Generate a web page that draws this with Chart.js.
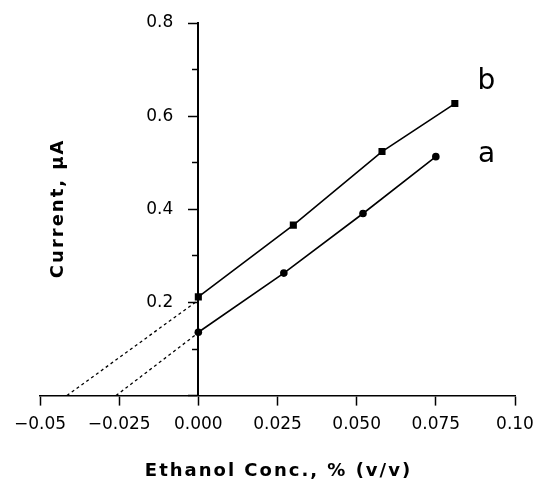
<!DOCTYPE html>
<html>
<head>
<meta charset="utf-8">
<script src="https://cdn.jsdelivr.net/npm/chart.js@4"></script>
<style>
    html, body { margin: 0; padding: 0; background: #fff; }
    #wrap { width: 537px; height: 482px; }
</style>
</head>
<body>
<div id="wrap"><canvas id="chart"></canvas></div>
<script>
'use strict';

// Axis ticks
const xTicks = [-0.05, -0.025, 0, 0.025, 0.05, 0.075, 0.10];
const xTickLabels = ['\u22120.05', '\u22120.025', '0.000', '0.025', '0.050', '0.075', '0.10'];
const yTicks = [0, 0.2, 0.4, 0.6, 0.8];
const yTickLabels = ['', '0.2', '0.4', '0.6', '0.8'];
const yMinorTicks = [0.1, 0.3, 0.5, 0.7];

// Series a (circles)
const aX = [0, 0.027, 0.052, 0.075];
const aY = [0.136, 0.263, 0.391, 0.513];
// Series b (squares)
const bX = [0, 0.030, 0.058, 0.081];
const bY = [0.212, 0.366, 0.524, 0.627];

// Extrapolation to the x intercept
const aExtX = [-0.026, 0];
const aExtY = [0, 0.135];
const bExtX = [-0.0415, 0];
const bExtY = [0, 0.205];

const seriesNames = ['a', 'b'];

const toPoints = (xs, ys) => xs.map((x, i) => ({ x: x, y: ys[i] }));

const FONT = '"DejaVu Sans", sans-serif';
const Y_LABEL_GAP = 25;

// Centered y axis puts its labels on the line itself, move them left
const yLabelPlugin = {
    id: 'yLabelShift',
    beforeDraw(chart) {
        const items = chart.scales.y.getLabelItems();
        if (items._shifted) {
            return;
        }
        items.forEach(item => { item.options.translation[0] -= Y_LABEL_GAP; });
        items._shifted = true;
    }
};

// Titles and series letters
const textPlugin = {
    id: 'texts',
    afterDraw(chart) {
        const ctx = chart.ctx;
        const area = chart.chartArea;
        const x = chart.scales.x;
        const y = chart.scales.y;
        ctx.save();
        ctx.fillStyle = '#000';
        ctx.textAlign = 'center';
        ctx.textBaseline = 'middle';

        // Series labels
        ctx.font = '28px ' + FONT;
        ctx.fillText(seriesNames[1], x.getPixelForValue(0.091), y.getPixelForValue(0.674));
        ctx.fillText(seriesNames[0], x.getPixelForValue(0.091), y.getPixelForValue(0.518));

        // Axis titles
        ctx.letterSpacing = '2px';
        ctx.font = 'bold 18px ' + FONT;
        ctx.fillText('Ethanol Conc., % (v/v)', (area.left + area.right) / 2 + 1, 471);
        ctx.translate(58, (area.top + area.bottom) / 2);
        ctx.rotate(-Math.PI / 2);
        ctx.fillText('Current, \u03bcA', 1, 0);
        ctx.restore();
    }
};

const zeroWidth = (scale) => { scale.width = 0; };

new Chart(document.getElementById('chart').getContext('2d'), {
    type: 'scatter',
    data: {
        datasets: [{
            data: toPoints(bExtX, bExtY),
            showLine: true,
            borderColor: '#000',
            borderWidth: 1.3,
            borderDash: [3, 3],
            pointRadius: 0
        }, {
            data: toPoints(aExtX, aExtY),
            showLine: true,
            borderColor: '#000',
            borderWidth: 1.3,
            borderDash: [3, 3],
            pointRadius: 0
        }, {
            label: seriesNames[1],
            data: toPoints(bX, bY),
            showLine: true,
            borderColor: '#000',
            backgroundColor: '#000',
            borderWidth: 1.6,
            pointStyle: 'rect',
            pointRadius: 5,
            pointBorderWidth: 0
        }, {
            label: seriesNames[0],
            data: toPoints(aX, aY),
            showLine: true,
            borderColor: '#000',
            backgroundColor: '#000',
            borderWidth: 1.6,
            pointStyle: 'circle',
            pointRadius: 3.8,
            pointBorderWidth: 0
        }]
    },
    options: {
        responsive: true,
        maintainAspectRatio: false,
        animation: false,
        layout: {
            padding: { left: 40, right: 22, top: 23, bottom: 38 }
        },
        plugins: {
            legend: { display: false },
            tooltip: { enabled: false }
        },
        scales: {
            x: {
                type: 'linear',
                position: 'bottom',
                min: -0.05,
                max: 0.10,
                afterBuildTicks: (scale) => {
                    scale.ticks = xTicks.map(v => ({ value: v }));
                },
                // labels may overhang the right edge a little
                afterFit: (scale) => {
                    scale.paddingRight = 0;
                    scale.paddingLeft = 0;
                },
                ticks: {
                    color: '#000',
                    font: { family: FONT, size: 17 },
                    padding: 9,
                    maxRotation: 0,
                    callback: (v, i) => xTickLabels[i]
                },
                grid: {
                    drawOnChartArea: false,
                    drawTicks: true,
                    tickLength: 10,
                    tickColor: '#000',
                    tickWidth: 1.5
                },
                border: { color: '#000', width: 1.6 }
            },
            y: {
                type: 'linear',
                position: { x: 0 },
                min: 0,
                max: 0.8,
                afterFit: zeroWidth,
                afterBuildTicks: (scale) => {
                    scale.ticks = yTicks.map(v => ({ value: v }));
                },
                ticks: {
                    color: '#000',
                    font: { family: FONT, size: 17 },
                    callback: (v, i) => yTickLabels[i]
                },
                grid: {
                    drawOnChartArea: false,
                    drawTicks: true,
                    tickLength: 9,
                    tickColor: '#000',
                    tickWidth: 1.5
                },
                border: { color: '#000', width: 2 }
            },
            yMinor: {
                type: 'linear',
                position: { x: 0 },
                min: 0,
                max: 0.8,
                afterFit: zeroWidth,
                afterBuildTicks: (scale) => {
                    scale.ticks = yMinorTicks.map(v => ({ value: v }));
                },
                ticks: { display: false },
                grid: {
                    drawOnChartArea: false,
                    drawTicks: true,
                    tickLength: 6,
                    tickColor: '#000',
                    tickWidth: 1.5
                },
                border: { display: false }
            }
        }
    },
    plugins: [yLabelPlugin, textPlugin]
});
</script>
</body>
</html>
